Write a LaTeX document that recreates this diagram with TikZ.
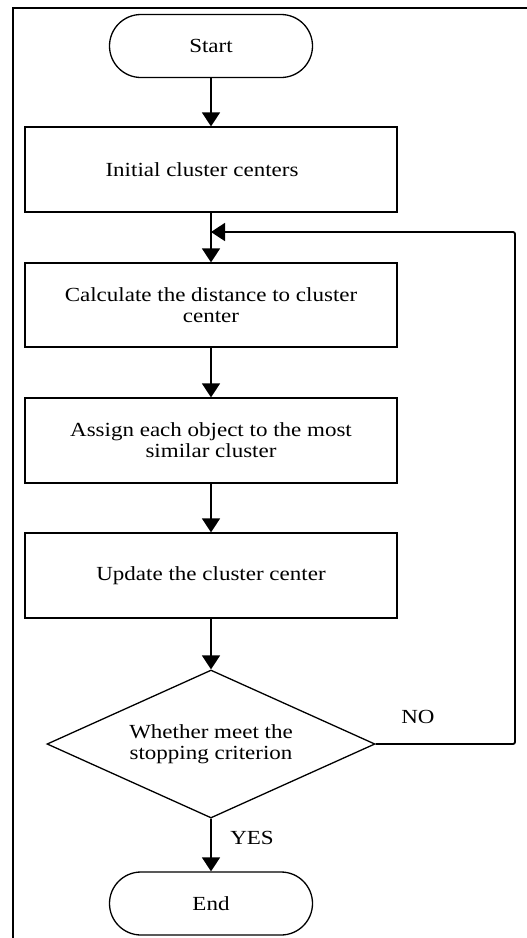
\documentclass[tikz,border=0pt]{standalone}
\usepackage{fontspec}
\setmainfont{Liberation Serif}[FakeStretch=1.15]
\usetikzlibrary{shapes.misc,shapes.geometric,arrows.meta}
\begin{document}
\begin{tikzpicture}[x=1pt,y=-1pt,
  every node/.style={font=\fontsize{20}{21}\selectfont},
  term/.style={draw, line width=1.3pt, rounded rectangle, minimum width=203pt, minimum height=63pt, inner sep=0pt},
  proc/.style={draw, line width=1.3pt, rectangle, minimum width=372pt, minimum height=85pt, inner sep=0pt, align=center},
  decis/.style={draw, line width=1.3pt, diamond, aspect=2.216, minimum width=328pt, minimum height=148pt, inner sep=0pt, align=center},
  arr/.style={line width=1.8pt, -{Triangle[width=18pt,length=14pt]}},
  lbl/.style={inner sep=0pt}]
\useasboundingbox (0,0) rectangle (527,938);
\fill[white] (0,0) rectangle (527,938);
% outer frame (top and left only)
\draw[line width=2.5pt] (527,8) -- (13,8) -- (13,938);

\node[term] (start) at (211,46) {Start};
\node[proc] (init) at (211,169.5) {\hspace*{-18pt}Initial cluster centers};
\node[proc, minimum height=84pt] (calc) at (211,305) {Calculate the distance to cluster\\center};
\node[proc] (assign) at (211,440.5) {Assign each object to the most\\similar cluster};
\node[proc] (update) at (211,575.5) {Update the cluster center};
\node[decis] (dec) at (211,744) {Whether meet the\\stopping criterion};
\node[term] (end) at (211,903.5) {End};

\node[lbl] (no) at (418,717) {NO};
\node[lbl] (yes) at (252,838) {YES};

\coordinate (join) at (211,232);
\coordinate (fbc) at (515,232);

\draw[arr] (start) -- (init);
\draw[arr] (init) -- (calc);
\draw[arr] (calc) -- (assign);
\draw[arr] (assign) -- (update);
\draw[arr] (update) -- (dec);
\draw[arr] (dec) -- (end);
\draw[arr, rounded corners=2pt] (dec.east) -| (fbc) -- (join);
\end{tikzpicture}
\end{document}
